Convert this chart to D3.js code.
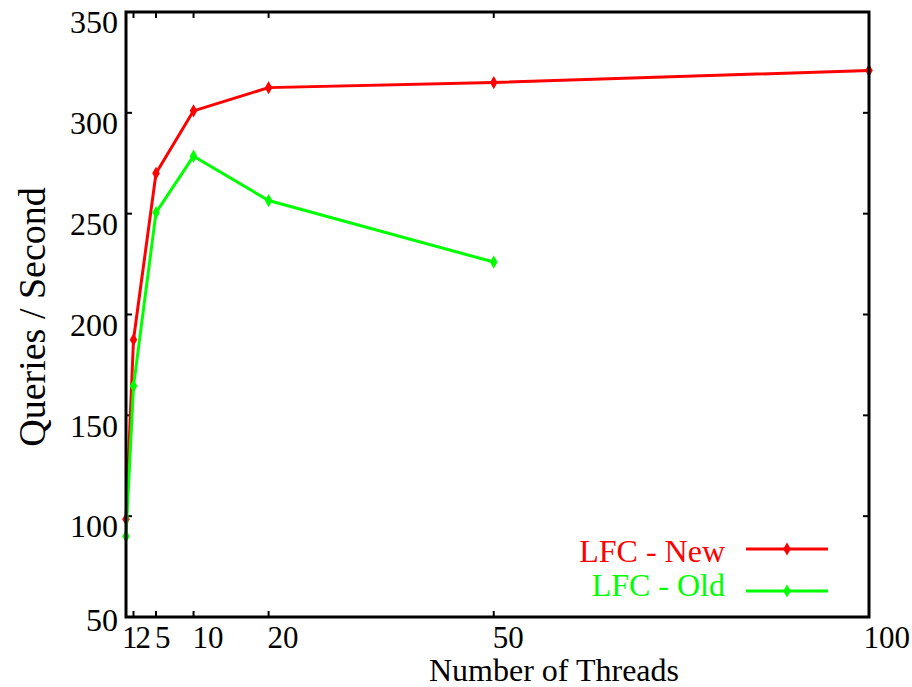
<!DOCTYPE html>
<html>
<head>
<meta charset="utf-8">
<script src="https://cdn.jsdelivr.net/npm/d3@7"></script>
<style>
  body { margin: 0; background: #fff; }
  text { font-family: "Liberation Serif", "Times New Roman", serif; }
</style>
</head>
<body>
<svg id="chart"></svg>
<script>
const threads = [1, 2, 5, 10, 20, 50, 100];
const lfcNew = [98.5, 187.5, 270, 301, 312.5, 315, 321];
const lfcOld = [90, 164.5, 250.5, 278.5, 256.5, 226];
const xTicks = [1, 2, 5, 10, 20, 50, 100];
const yTicks = [50, 100, 150, 200, 250, 300, 350];
const seriesNames = ['LFC - New', 'LFC - Old'];
const seriesColors = ['#ff0000', '#00ff00'];

const W = 912, H = 687;
const m = {left: 126, top: 12, right: 43, bottom: 70};
const w = W - m.left - m.right, h = H - m.top - m.bottom;

const svg = d3.select('#chart').attr('width', W).attr('height', H)
  .attr('font-family', 'Liberation Serif');
const g = svg.append('g').attr('transform', `translate(${m.left},${m.top})`);

const x = d3.scaleLinear().domain([1, 100]).range([0, w]);
const y = d3.scaleLinear().domain([50, 350]).range([h, 0]);

// ticks pointing inward on all four sides
const tk = 6;
g.append('g').selectAll('line').data(xTicks).enter().append('line')
  .attr('x1', d => x(d)).attr('x2', d => x(d))
  .attr('y1', h).attr('y2', h - tk)
  .attr('stroke', '#000').attr('stroke-width', 2);
g.append('g').selectAll('line').data(xTicks).enter().append('line')
  .attr('x1', d => x(d)).attr('x2', d => x(d))
  .attr('y1', 0).attr('y2', tk)
  .attr('stroke', '#000').attr('stroke-width', 2);
g.append('g').selectAll('line').data(yTicks).enter().append('line')
  .attr('x1', 0).attr('x2', tk)
  .attr('y1', d => y(d)).attr('y2', d => y(d))
  .attr('stroke', '#000').attr('stroke-width', 2);
g.append('g').selectAll('line').data(yTicks).enter().append('line')
  .attr('x1', w).attr('x2', w - tk)
  .attr('y1', d => y(d)).attr('y2', d => y(d))
  .attr('stroke', '#000').attr('stroke-width', 2);

// x tick labels: start at the tick, pushed right when they would collide
const xl = g.append('g').selectAll('text').data(xTicks).enter().append('text')
  .attr('y', h + 31)
  .attr('font-size', 31).attr('text-anchor', 'start')
  .text(d => d);
let prevEnd = -Infinity;
xl.each(function (d, i) {
  const len = this.getComputedTextLength();
  let px = Math.max(x(d) - (i === 0 ? 4 : 1), prevEnd - 2);
  px = Math.min(px, W - m.left - 2 - len);
  d3.select(this).attr('x', px);
  prevEnd = px + len;
});

g.append('g').selectAll('text').data(yTicks).enter().append('text')
  .attr('x', -8).attr('y', d => Math.min(y(d) + 10, h + 3))
  .attr('dy', '0.35em')
  .attr('font-size', 32).attr('text-anchor', 'end')
  .text(d => d);

// axis titles
svg.append('text')
  .attr('x', 554).attr('y', 681)
  .attr('font-size', 32).attr('text-anchor', 'middle')
  .text('Number of Threads');
svg.append('text')
  .attr('transform', `translate(45,${m.top + 305}) rotate(-90)`)
  .attr('font-size', 38).attr('text-anchor', 'middle')
  .text('Queries / Second');

const line = d3.line().x(d => x(d[0])).y(d => y(d[1]));
const diamond = d3.symbol().type(d3.symbolDiamond).size(50);

[lfcNew, lfcOld].forEach((vals, i) => {
  const pts = vals.map((v, j) => [threads[j], v]);
  g.append('path').datum(pts)
    .attr('d', line).attr('fill', 'none')
    .attr('stroke', seriesColors[i]).attr('stroke-width', 3)
    .attr('stroke-linejoin', 'round');
  g.append('g').selectAll('path').data(pts).enter().append('path')
    .attr('d', diamond)
    .attr('transform', d => `translate(${x(d[0])},${y(d[1])})`)
    .attr('fill', seriesColors[i]);
});

// legend
const legY = [549, 591];
const legText = [562, 596];
seriesNames.forEach((name, i) => {
  svg.append('text')
    .attr('x', 725).attr('y', legText[i])
    .attr('font-size', 32).attr('text-anchor', 'end')
    .attr('fill', seriesColors[i])
    .text(name);
  svg.append('line')
    .attr('x1', 746).attr('x2', 828)
    .attr('y1', legY[i]).attr('y2', legY[i])
    .attr('stroke', seriesColors[i]).attr('stroke-width', 3);
  svg.append('path').attr('d', diamond)
    .attr('transform', `translate(787,${legY[i]})`)
    .attr('fill', seriesColors[i]);
});

// frame
g.append('rect').attr('x', 0).attr('y', 0).attr('width', w).attr('height', h)
  .attr('fill', 'none').attr('stroke', '#000').attr('stroke-width', 3);
</script>
</body>
</html>
